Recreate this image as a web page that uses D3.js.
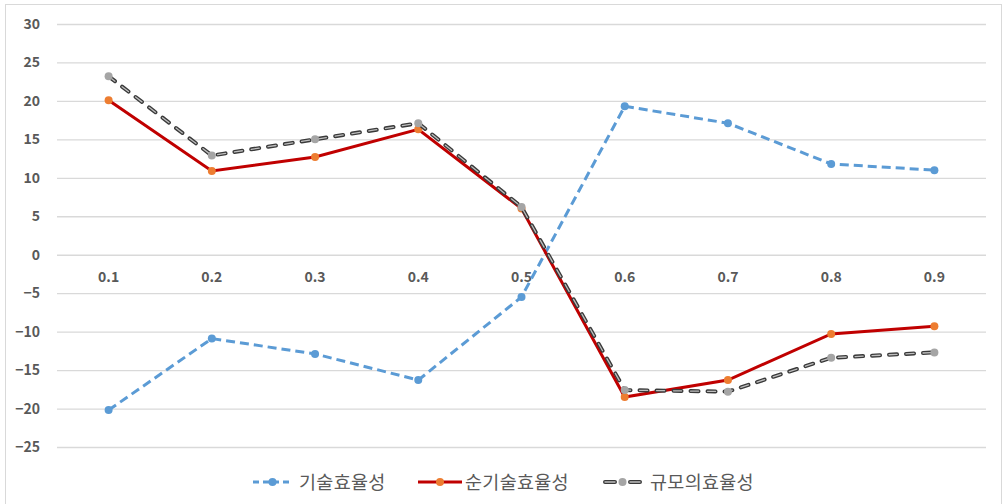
<!DOCTYPE html>
<html>
<head>
<meta charset="utf-8">
<script src="https://cdn.jsdelivr.net/npm/d3@7"></script>
<style>
  html, body { margin: 0; padding: 0; background: #fff; }
  svg { display: block; }
</style>
</head>
<body>
<svg id="chart" width="1003" height="504"></svg>
<script>
// Category labels (horizontal axis)
const categories = ["0.1", "0.2", "0.3", "0.4", "0.5", "0.6", "0.7", "0.8", "0.9"];

// Series values
const techEff = [-20.2, -10.9, -12.9, -16.3, -5.5, 19.3, 17.1, 11.8, 11.0];      // 기술효율성
const pureTechEff = [20.1, 10.9, 12.7, 16.3, 6.0, -18.5, -16.3, -10.3, -9.3];   // 순기술효율성
const scaleEff = [23.2, 12.9, 15.0, 17.1, 6.2, -17.6, -17.8, -13.4, -12.7];     // 규모의효율성

// Vertical axis ticks
const yTicks = [30, 25, 20, 15, 10, 5, 0, -5, -10, -15, -20, -25];

const seriesNames = ["기술효율성", "순기술효율성", "규모의효율성"];

const svg = d3.select("#chart");
const W = 1003, H = 504;
const plot = { left: 57, right: 986, top: 24, bottom: 447 };

const font = "'Noto Sans CJK KR', 'Noto Sans', sans-serif";
const textColor = "#595959";

// Outer frame
svg.append("rect")
  .attr("x", 5.5).attr("y", 4.5)
  .attr("width", W - 7).attr("height", H - 4)
  .attr("fill", "#fff").attr("stroke", "#d9d9d9").attr("stroke-width", 1);

const x = d3.scaleBand().domain(categories).range([plot.left, plot.right]);
const y = d3.scaleLinear().domain([-25, 30]).range([plot.bottom, plot.top]);
const cx = d => x(d) + x.bandwidth() / 2;

// Gridlines
const yAxis = d3.axisLeft(y)
  .tickValues(yTicks)
  .tickSize(-(plot.right - plot.left))
  .tickPadding(17)
  .tickFormat(d3.format("d"));

const gy = svg.append("g")
  .attr("transform", `translate(${plot.left},0)`)
  .call(yAxis);
gy.select(".domain").remove();
gy.selectAll(".tick line").attr("stroke", "#d9d9d9").attr("stroke-width", 1.3);
gy.selectAll(".tick text")
  .attr("fill", textColor)
  .style("font-family", font)
  .style("font-size", "14px")
  .style("font-weight", "bold");

// Category labels sit just under the zero line
const xAxis = d3.axisBottom(x).tickSize(0).tickPadding(17);
const gx = svg.append("g")
  .attr("transform", `translate(0,${y(0)})`)
  .call(xAxis);
gx.select(".domain").remove();
gx.selectAll(".tick text")
  .attr("fill", textColor)
  .style("font-family", font)
  .style("font-size", "14px")
  .style("font-weight", "bold");

const line = d3.line().x((d, i) => cx(categories[i])).y(d => y(d));

// 기술효율성 — blue dashed
svg.append("path")
  .datum(techEff)
  .attr("d", line)
  .attr("fill", "none")
  .attr("stroke", "#5b9bd5")
  .attr("stroke-width", 3)
  .attr("stroke-dasharray", "9,5");
svg.append("g").selectAll("circle")
  .data(techEff).join("circle")
  .attr("cx", (d, i) => cx(categories[i]))
  .attr("cy", d => y(d))
  .attr("r", 4)
  .attr("fill", "#5b9bd5");

// 순기술효율성 — red solid
svg.append("path")
  .datum(pureTechEff)
  .attr("d", line)
  .attr("fill", "none")
  .attr("stroke", "#c00000")
  .attr("stroke-width", 3);
svg.append("g").selectAll("circle")
  .data(pureTechEff).join("circle")
  .attr("cx", (d, i) => cx(categories[i]))
  .attr("cy", d => y(d))
  .attr("r", 4)
  .attr("fill", "#ed7d31");

// 규모의효율성 — dark dashed outline with a light core
svg.append("path")
  .datum(scaleEff)
  .attr("d", line)
  .attr("fill", "none")
  .attr("stroke", "#3a3a3a")
  .attr("stroke-width", 4)
  .attr("stroke-linecap", "round")
  .attr("stroke-dasharray", "8,9");
svg.append("path")
  .datum(scaleEff)
  .attr("d", line)
  .attr("fill", "none")
  .attr("stroke", "#bfbfbf")
  .attr("stroke-width", 1.3)
  .attr("stroke-linecap", "round")
  .attr("stroke-dasharray", "8,9");
svg.append("g").selectAll("circle")
  .data(scaleEff).join("circle")
  .attr("cx", (d, i) => cx(categories[i]))
  .attr("cy", d => y(d))
  .attr("r", 4)
  .attr("fill", "#a5a5a5");

// Legend
const legendY = 482;
const legendItems = [
  { name: seriesNames[0], x0: 253, x1: 292, tx: 299 },
  { name: seriesNames[1], x0: 418, x1: 462, tx: 465 },
  { name: seriesNames[2], x0: 603, x1: 642, tx: 650 }
];
const lg = svg.append("g");

// blue
lg.append("line")
  .attr("x1", legendItems[0].x0).attr("x2", legendItems[0].x1)
  .attr("y1", legendY).attr("y2", legendY)
  .attr("stroke", "#5b9bd5").attr("stroke-width", 3)
  .attr("stroke-dasharray", "6,4");
lg.append("circle")
  .attr("cx", (legendItems[0].x0 + legendItems[0].x1) / 2).attr("cy", legendY)
  .attr("r", 4).attr("fill", "#5b9bd5");

// red
lg.append("line")
  .attr("x1", legendItems[1].x0).attr("x2", legendItems[1].x1)
  .attr("y1", legendY).attr("y2", legendY)
  .attr("stroke", "#c00000").attr("stroke-width", 3);
lg.append("circle")
  .attr("cx", (legendItems[1].x0 + legendItems[1].x1) / 2).attr("cy", legendY)
  .attr("r", 4).attr("fill", "#ed7d31");

// gray/black
lg.append("line")
  .attr("x1", legendItems[2].x0 + 2).attr("x2", legendItems[2].x1 - 2)
  .attr("y1", legendY).attr("y2", legendY)
  .attr("stroke", "#3a3a3a").attr("stroke-width", 4)
  .attr("stroke-linecap", "round")
  .attr("stroke-dasharray", "10,15");
lg.append("line")
  .attr("x1", legendItems[2].x0 + 2).attr("x2", legendItems[2].x1 - 2)
  .attr("y1", legendY).attr("y2", legendY)
  .attr("stroke", "#bfbfbf").attr("stroke-width", 1.3)
  .attr("stroke-linecap", "round")
  .attr("stroke-dasharray", "10,15");
lg.append("circle")
  .attr("cx", (legendItems[2].x0 + legendItems[2].x1) / 2).attr("cy", legendY)
  .attr("r", 4).attr("fill", "#a5a5a5");

lg.selectAll("text")
  .data(legendItems).join("text")
  .attr("x", d => d.tx)
  .attr("y", legendY)
  .attr("dy", "0.36em")
  .attr("fill", textColor)
  .style("font-family", font)
  .style("font-size", "18.5px")
  .style("letter-spacing", "0.3px")
  .text(d => d.name);
</script>
</body>
</html>
